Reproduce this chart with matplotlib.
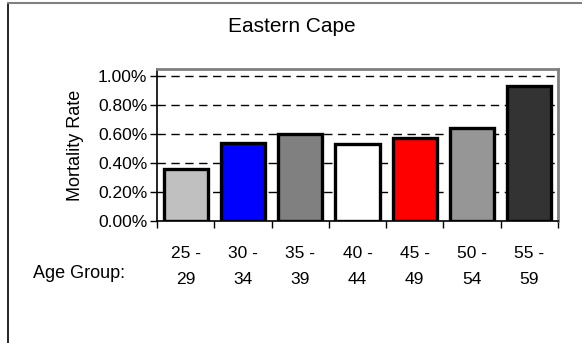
import matplotlib
matplotlib.use("Agg")
import matplotlib.pyplot as plt
from matplotlib.ticker import FuncFormatter
from matplotlib import font_manager

# Data
age_groups = ["25 -\n29", "30 -\n34", "35 -\n39", "40 -\n44", "45 -\n49", "50 -\n54", "55 -\n59"]
mortality_rate = [0.36, 0.54, 0.60, 0.53, 0.57, 0.64, 0.93]  # percent
bar_colors = ["#C0C0C0", "#0000FF", "#808080", "#FFFFFF", "#FF0000", "#969696", "#333333"]
y_ticks = [0.0, 0.2, 0.4, 0.6, 0.8, 1.0]

names = {f.name for f in font_manager.fontManager.ttflist}
family = ["Liberation Sans Narrow"] if "Liberation Sans Narrow" in names else ["Liberation Sans", "DejaVu Sans"]
plt.rcParams["font.family"] = family

fig = plt.figure(figsize=(5.82, 3.43), dpi=100)
W, H = 582, 343

# outer chart frame (left black, top grey)
fig.add_artist(plt.Line2D([8 / W, 8 / W], [0, 1 - 3 / H], color="black", lw=1.2, transform=fig.transFigure))
fig.add_artist(plt.Line2D([8 / W, 1], [1 - 3 / H, 1 - 3 / H], color="#808080", lw=1.5, transform=fig.transFigure))

left, right = 157 / W, 558 / W
bottom, top = 1 - 221 / H, 1 - 69 / H
ax = fig.add_axes([left, bottom, right - left, top - bottom])

x = list(range(len(age_groups)))
ax.bar(x, mortality_rate, width=0.77, color=bar_colors, edgecolor="black", linewidth=2.4, zorder=3)

ax.set_xlim(-0.5, len(age_groups) - 0.5)
ax.set_ylim(0, 1.0 + 7 / 145)
ax.set_yticks(y_ticks)
ax.yaxis.set_major_formatter(FuncFormatter(lambda v, p: f"{v:.2f}%"))
for v in y_ticks[1:]:
    ax.axhline(v, color="black", lw=1.0, dashes=(6, 4), zorder=1)

# category ticks at bar boundaries, labels centred under bars
ax.set_xticks([i - 0.5 for i in range(len(age_groups) + 1)])
ax.set_xticklabels([])
ax.set_xticks(x, minor=True)
ax.set_xticklabels(age_groups, minor=True, fontsize=12.5, linespacing=1.95)
ax.tick_params(axis="x", which="minor", length=0, pad=18)
ax.tick_params(axis="x", which="major", direction="out", length=5, width=1)
ax.tick_params(axis="y", direction="out", length=5, width=1, labelsize=12.5, pad=2)

for s in ["top", "right"]:
    ax.spines[s].set_color("#808080")
    ax.spines[s].set_linewidth(2)
ax.spines["left"].set_linewidth(1.2)
ax.spines["bottom"].set_linewidth(1.2)

ax.set_ylabel("Mortality Rate", fontsize=13, labelpad=10)

fig.text(292 / W, 1 - 26 / H, "Eastern Cape", ha="center", va="center", fontsize=15)
fig.text(79 / W, 1 - 274 / H, "Age Group:", ha="center", va="center", fontsize=13)

fig.savefig("out.png", dpi=100, facecolor="white")
